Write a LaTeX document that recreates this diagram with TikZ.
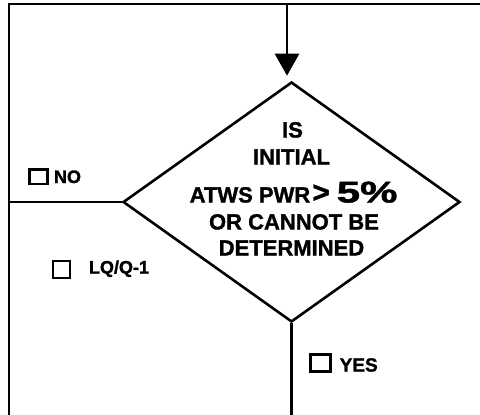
\documentclass[tikz,border=0pt]{standalone}
\usepackage{fontspec}
\setmainfont{Liberation Sans}
\newfontfamily\heavy{Liberation Sans Bold}[FakeBold=1.3]
\usepackage{graphicx}
\usetikzlibrary{shapes.geometric,arrows.meta}
\tikzset{
  x=1pt, y=-1pt,
  frameline/.style={line width=2.4pt, black},
  decision/.style={diamond, draw, line width=2.6pt, inner sep=0pt, minimum width=337pt, minimum height=240pt},
  qtext/.style={anchor=base, inner sep=0pt, font=\fontsize{22}{22}\selectfont\heavy},
  lbl/.style={anchor=base west, inner sep=0pt, font=\fontsize{18}{18}\selectfont\heavy},
  cbox/.style={draw, inner sep=0pt},
}
\begin{document}
\begin{tikzpicture}
\useasboundingbox (0,0) rectangle (480,415);
% frame
\coordinate (tl) at (9,4);
\coordinate (bl) at (9,415);
\coordinate (tr) at (480,4);
\coordinate (top) at (287,4);
\draw[frameline] (bl) -- (tl) -- (tr);
% decision
\node[decision] (d) at (291.5,202) {};
\node[qtext] (t1) at (292.5,137.5) {IS};
\node[qtext] (t2) at (291.5,164.5) {INITIAL};
\node[qtext, anchor=base west] (t3) at (189.5,202.5) {ATWS PWR\hspace{2pt}{\fontsize{30}{30}\selectfont >\hspace{7pt}\scalebox{1.4}[1]{5\%}}};
\node[qtext] (t4) at (294,229.5) {OR CANNOT BE};
\node[qtext] (t5) at (291.5,255.5) {DETERMINED};
% connectors
\draw[line width=2.8pt, -{Triangle[length=22pt,width=24pt]}, shorten >=5pt] (top) -- (top |- d.north);
\draw[line width=2.4pt] (d.west) -- (d.west -| tl);
\draw[line width=2.8pt] (d.south) -- (d.south |- bl);
% check boxes and labels
\node[cbox, line width=2.6pt, minimum width=18pt, minimum height=14.5pt] (bno) at (38.3,176.7) {};
\node[lbl] (lno) at (53.8,183) {NO};
\node[cbox, line width=2.2pt, minimum width=17pt, minimum height=17pt] (blq) at (61.3,269.7) {};
\node[lbl] (llq) at (88.8,273.5) {LQ/Q-1};
\node[cbox, line width=3pt, minimum width=20pt, minimum height=17pt] (byes) at (320,363.3) {};
\node[lbl, font=\fontsize{19}{19}\selectfont\heavy] (lyes) at (339.5,371.5) {YES};
\end{tikzpicture}
\end{document}
